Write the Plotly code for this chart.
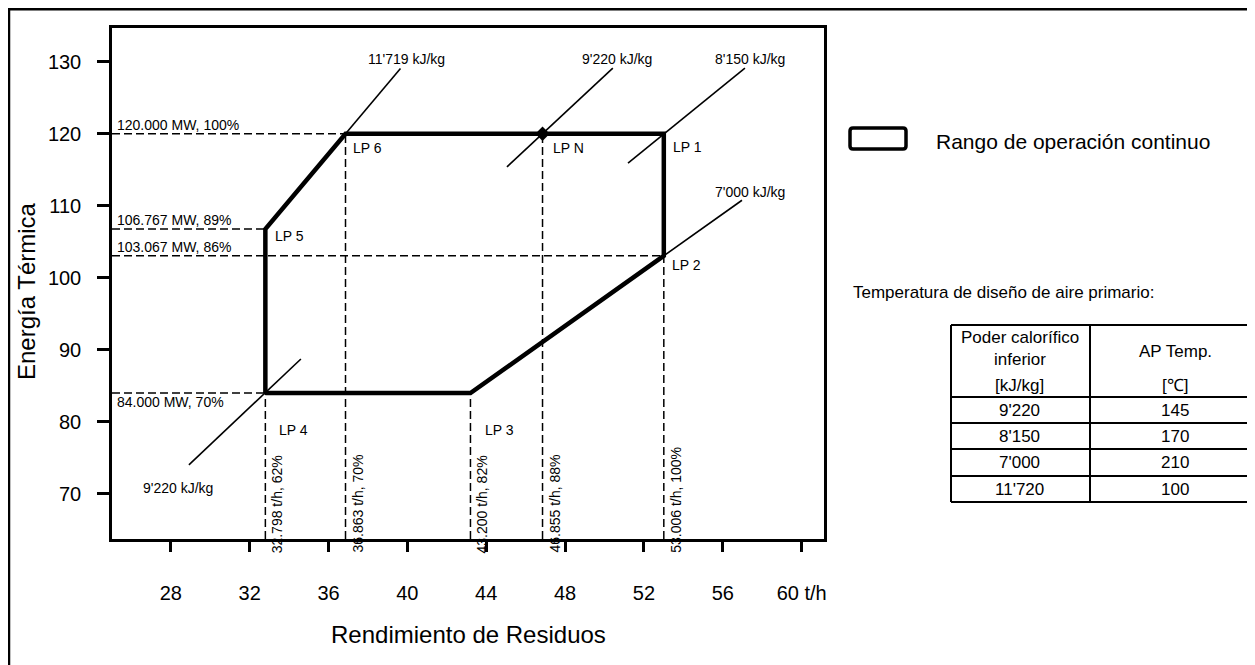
import plotly.graph_objects as go

# ---------------- data ----------------
lp_names = ["LP 4", "LP 3", "LP 2", "LP 1", "LP 6", "LP 5"]
lp_x = [32.798, 43.200, 53.006, 53.006, 36.863, 32.798]
lp_y = [84.000, 84.000, 103.067, 120.000, 120.000, 106.767]
lpn_x = 46.855
lpn_y = 120.000

# guide values
mw_values = [120.000, 106.767, 103.067, 84.000]
mw_pct = [100, 89, 86, 70]
mw_xend = [36.863, 32.798, 53.006, 32.798]

th_values = [32.798, 36.863, 43.200, 46.855, 53.006]
th_pct = [62, 70, 82, 88, 100]
th_ytop = [84.000, 120.000, 84.000, 120.000, 103.067]

# heating value lines (start x, start y, end x, end y)
hv_labels = ["11'719 kJ/kg", "9'220 kJ/kg", "8'150 kJ/kg", "7'000 kJ/kg", "9'220 kJ/kg"]
hv_x0 = [32.798, 45.05, 51.19, 43.20, 28.92]
hv_y0 = [106.767, 115.40, 115.94, 84.00, 74.03]
hv_x1 = [39.65, 50.42, 57.12, 56.97, 34.60]
hv_y1 = [129.06, 129.10, 129.10, 110.77, 88.74]

# axes
x_ticks = [28, 32, 36, 40, 44, 48, 52, 56, 60]
x_ticktext = ["28", "32", "36", "40", "44", "48", "52", "56", "60 t/h"]
y_ticks = [70, 80, 90, 100, 110, 120, 130]
x_range = [25.02, 61.13]
y_range = [63.75, 134.68]

# table
tbl_col1 = ["9'220", "8'150", "7'000", "11'720"]
tbl_col2 = ["145", "170", "210", "100"]

FONT = "Liberation Sans, Arial, sans-serif"

# ---------------- layout geometry (reference-window pixels) ----------------
OFF = 8  # page body margin
W, H = 1255 - OFF, 665 - OFF
PL, PR, PT, PB = 112, 824, 28, 539  # plot frame in window pixels


def pxx(px):
    return (px - PL) / (PR - PL)


def pxy(py):
    return (PB - py) / (PB - PT)


fig = go.Figure()

dash = "8px,4px"

for v, xe in zip(mw_values, mw_xend):
    fig.add_trace(go.Scatter(x=[x_range[0], xe], y=[v, v], mode="lines",
                             line=dict(color="black", width=1.5, dash=dash),
                             hoverinfo="skip", showlegend=False))
for v, yt in zip(th_values, th_ytop):
    fig.add_trace(go.Scatter(x=[v, v], y=[y_range[0], yt], mode="lines",
                             line=dict(color="black", width=1.5, dash=dash),
                             hoverinfo="skip", showlegend=False))

for x0, y0, x1, y1 in zip(hv_x0, hv_y0, hv_x1, hv_y1):
    fig.add_trace(go.Scatter(x=[x0, x1], y=[y0, y1], mode="lines",
                             line=dict(color="black", width=1.6),
                             hoverinfo="skip", showlegend=False))

fig.add_trace(go.Scatter(x=lp_x + [lp_x[0]], y=lp_y + [lp_y[0]], mode="lines",
                         line=dict(color="black", width=4.5),
                         hoverinfo="skip", showlegend=False))

fig.add_trace(go.Scatter(x=[lpn_x], y=[lpn_y], mode="markers",
                         marker=dict(symbol="diamond", size=11, color="black"),
                         hoverinfo="skip", showlegend=False))

ann = []
f14 = dict(family=FONT, size=14, color="black")

lp_shift = {"LP 4": (12, -37), "LP 3": (13, -37), "LP 2": (6, -9),
            "LP 1": (7, -13), "LP 6": (5, -14), "LP 5": (8, -7)}
for n, x, y in zip(lp_names, lp_x, lp_y):
    sx, sy = lp_shift[n]
    ann.append(dict(x=x, y=y, xref="x", yref="y", text=n, showarrow=False,
                    xanchor="left", yanchor="middle", xshift=sx, yshift=sy, font=f14))
ann.append(dict(x=lpn_x, y=lpn_y, xref="x", yref="y", text="LP N", showarrow=False,
                xanchor="left", yanchor="middle", xshift=8, yshift=-14, font=f14))

for v, p in zip(mw_values, mw_pct):
    sy = 9 if v > 90 else -9
    ann.append(dict(x=x_range[0], y=v, xref="x", yref="y",
                    text=f"{v:.3f} MW, {p}%", showarrow=False,
                    xanchor="left", yanchor="middle", xshift=3, yshift=sy, font=f14))

for v, p in zip(th_values, th_pct):
    ann.append(dict(x=v, y=y_range[0], xref="x", yref="y",
                    text=f"{v:.3f} t/h, {p}%", showarrow=False, textangle=-90,
                    xanchor="center", yanchor="bottom", xshift=12, yshift=-16, font=f14))

hv_shift = [(6, 9, "end"), (4, 9, "end"), (5, 9, "end"), (8, 8, "end"), (-11, -23, "start")]
for lab, x0, y0, x1, y1, (sx, sy, which) in zip(hv_labels, hv_x0, hv_y0, hv_x1, hv_y1, hv_shift):
    ax, ay = (x1, y1) if which == "end" else (x0, y0)
    ann.append(dict(x=ax, y=ay, xref="x", yref="y", text=lab, showarrow=False,
                    xanchor="center", yanchor="middle", xshift=sx, yshift=sy, font=f14))

ann.append(dict(x=pxx(468), y=pxy(634), xref="paper", yref="paper",
                text="Rendimiento de Residuos", showarrow=False,
                xanchor="center", yanchor="middle",
                font=dict(family=FONT, size=24, color="black")))
ann.append(dict(x=pxx(26), y=pxy(291), xref="paper", yref="paper",
                text="Energía Térmica", showarrow=False, textangle=-90,
                xanchor="center", yanchor="middle",
                font=dict(family=FONT, size=24, color="black")))

ann.append(dict(x=pxx(934), y=pxy(141), xref="paper", yref="paper",
                text="Rango de operación continuo", showarrow=False,
                xanchor="left", yanchor="middle",
                font=dict(family=FONT, size=21, color="black")))
ann.append(dict(x=pxx(851), y=pxy(292), xref="paper", yref="paper",
                text="Temperatura de diseño de aire primario:", showarrow=False,
                xanchor="left", yanchor="middle",
                font=dict(family=FONT, size=17, color="black")))

shapes = []
# outer frame (top edge kept just inside the figure)
shapes.append(dict(type="rect", xref="paper", yref="paper",
                   x0=pxx(9), x1=pxx(1275), y0=pxy(685), y1=pxy(OFF + 1.3),
                   line=dict(color="black", width=2.5), fillcolor="rgba(0,0,0,0)"))

bx0, bx1, by0, by1, r = 850, 906, 128, 149, 3
path = (f"M {pxx(bx0 + r)},{pxy(by0)} L {pxx(bx1 - r)},{pxy(by0)} "
        f"Q {pxx(bx1)},{pxy(by0)} {pxx(bx1)},{pxy(by0 + r)} "
        f"L {pxx(bx1)},{pxy(by1 - r)} Q {pxx(bx1)},{pxy(by1)} {pxx(bx1 - r)},{pxy(by1)} "
        f"L {pxx(bx0 + r)},{pxy(by1)} Q {pxx(bx0)},{pxy(by1)} {pxx(bx0)},{pxy(by1 - r)} "
        f"L {pxx(bx0)},{pxy(by0 + r)} Q {pxx(bx0)},{pxy(by0)} {pxx(bx0 + r)},{pxy(by0)} Z")
shapes.append(dict(type="path", xref="paper", yref="paper", path=path,
                   line=dict(color="black", width=3.5)))

tx0, tx1, tx2 = 951, 1090, 1275
row_lines = [325, 397, 423, 449, 476, 502]
for yl in row_lines:
    shapes.append(dict(type="line", xref="paper", yref="paper",
                       x0=pxx(tx0), x1=pxx(tx2), y0=pxy(yl), y1=pxy(yl),
                       line=dict(color="black", width=2)))
for xl in [tx0, tx1]:
    shapes.append(dict(type="line", xref="paper", yref="paper",
                       x0=pxx(xl), x1=pxx(xl), y0=pxy(row_lines[0]), y1=pxy(row_lines[-1]),
                       line=dict(color="black", width=2)))

f17 = dict(family=FONT, size=17, color="black")
c1, c2 = 1020, 1175
for txt, yy, cx in [("Poder calorífico", 337, c1), ("inferior", 359, c1), ("[kJ/kg]", 385, c1),
                    ("AP Temp.", 351, c2), ("[℃]", 385, c2)]:
    ann.append(dict(x=pxx(cx), y=pxy(yy), xref="paper", yref="paper", text=txt,
                    showarrow=False, xanchor="center", yanchor="middle", font=f17))
for i, (a, b) in enumerate(zip(tbl_col1, tbl_col2)):
    yc = (row_lines[i + 1] + row_lines[i + 2]) / 2
    ann.append(dict(x=pxx(c1), y=pxy(yc), xref="paper", yref="paper", text=a,
                    showarrow=False, xanchor="center", yanchor="middle", font=f17))
    ann.append(dict(x=pxx(c2), y=pxy(yc), xref="paper", yref="paper", text=b,
                    showarrow=False, xanchor="center", yanchor="middle", font=f17))

fig.update_layout(
    width=W, height=H,
    margin=dict(l=PL - OFF, r=W - (PR - OFF), t=PT - OFF, b=H - (PB - OFF), pad=0),
    paper_bgcolor="white", plot_bgcolor="white",
    showlegend=False,
    annotations=ann, shapes=shapes,
    font=dict(family=FONT, color="black"),
    xaxis=dict(range=x_range, tickvals=x_ticks, ticktext=x_ticktext,
               showgrid=False, zeroline=False, showline=True, mirror=True,
               linecolor="black", linewidth=2.5,
               ticks="outside", ticklen=10, tickwidth=3, tickcolor="black",
               tickfont=dict(family=FONT, size=20, color="black"),
               ticklabelstandoff=24),
    yaxis=dict(range=y_range, tickvals=y_ticks,
               showgrid=False, zeroline=False, showline=True, mirror=True,
               linecolor="black", linewidth=2.5,
               ticks="outside", ticklen=12, tickwidth=3, tickcolor="black",
               tickfont=dict(family=FONT, size=20, color="black"),
               ticklabelstandoff=12),
)

fig.write_html("out.html")
